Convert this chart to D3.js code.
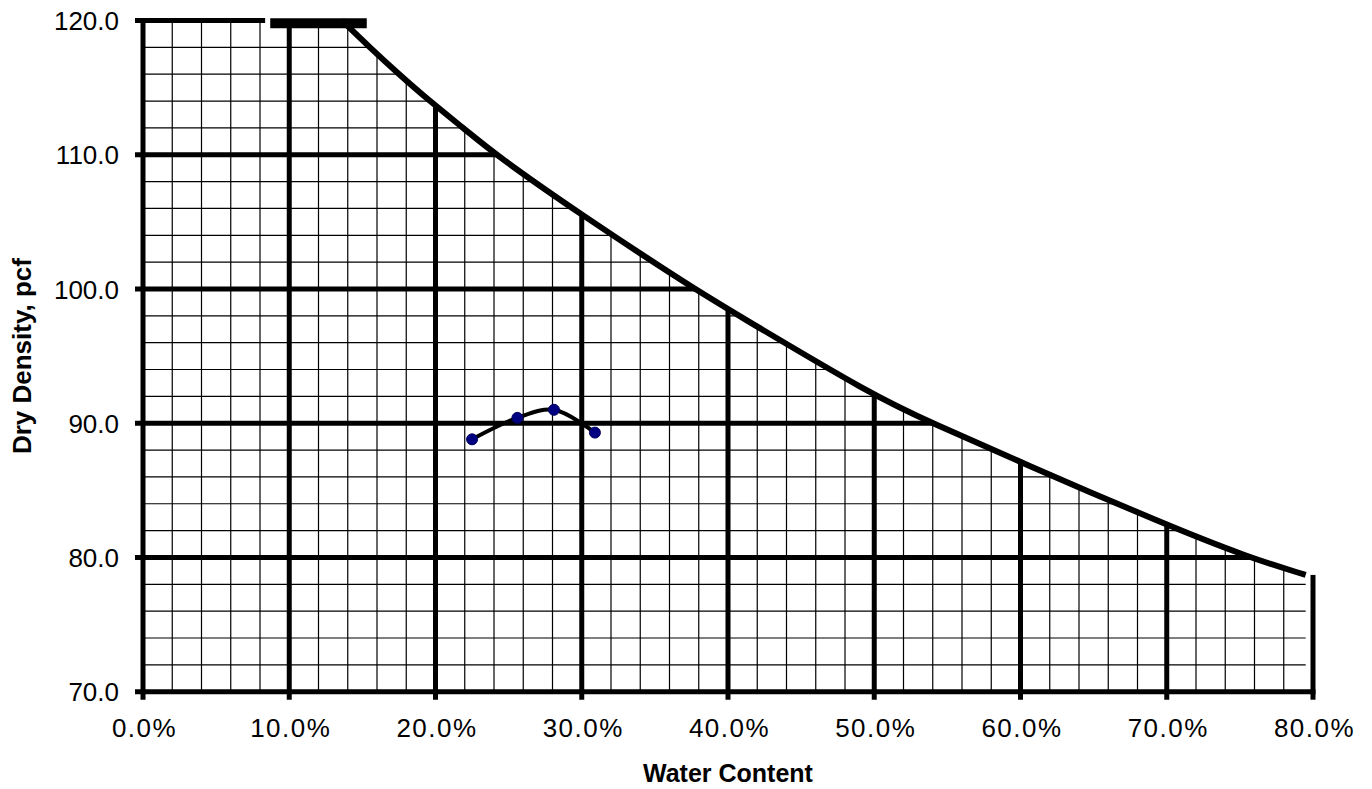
<!DOCTYPE html>
<html>
<head>
<meta charset="utf-8">
<script src="https://cdn.jsdelivr.net/npm/d3@7"></script>
<style>
    body { margin: 0; background: #fff; }
    svg text { font-family: "Liberation Sans", Arial, sans-serif; fill: #000; }
</style>
</head>
<body>
<svg id="chart"></svg>
<script>
// compaction chart: dry density vs water content

// saturation curve (water content %, dry density pcf)
var curveW = [13.6, 15.5, 17.5, 19.6, 21.9, 24.1, 30.0, 37.7, 40.0, 50.0, 54.0, 60.0, 70.0, 75.6, 79.5];
var curveV = [120.0, 118.0, 116.0, 114.0, 112.0, 110.0, 105.5, 100.0, 98.5, 92.0, 90.0, 87.1, 82.4, 80.0, 78.7];

// test points
var testW = [22.5, 25.6, 28.1, 30.9];
var testV = [88.8, 90.4, 91.0, 89.3];

// clamped part of the curve at the top edge
var capW = [8.7, 15.3];
var capV = 119.8;
// end of the 120 gridline on the left
var topLineEnd = 8.35;

var xMajor = [0, 10, 20, 30, 40, 50, 60, 70, 80];
var yMajor = [70, 80, 90, 100, 110, 120];
var xMinor = d3.range(2, 80, 2).filter(function(d) { return d % 10 !== 0; });
var yMinor = d3.range(72, 120, 2).filter(function(d) { return d % 10 !== 0; });

var W = 1372, H = 789;
var margin = { top: 20.5, right: 59, bottom: 97.3, left: 143 },
    width = W - margin.left - margin.right,
    height = H - margin.top - margin.bottom,
    tick = 8;

var svg = d3.select("#chart").attr("width", W).attr("height", H);

var x = d3.scaleLinear().domain([0, 80]).range([0, width]),
    y = d3.scaleLinear().domain([70, 120]).range([height, 0]);

var curve = curveW.map(function(w, i) { return { w: w, v: curveV[i] }; });
var tests = testW.map(function(w, i) { return { w: w, v: testV[i] }; });

var g = svg.append("g")
    .attr("transform", "translate(" + margin.left + "," + margin.top + ")");

// clip the grid to the area under the saturation curve
var area = d3.area()
    .x(function(d) { return x(d.w); })
    .y0(height + 12)
    .y1(function(d) { return y(d.v); })
    .curve(d3.curveBasis);

var clip = svg.append("defs").append("clipPath").attr("id", "under");
clip.append("path").datum(curve).attr("d", area);
clip.append("rect")
    .attr("x", -12)
    .attr("y", y(120))
    .attr("width", x(curveW[0]) + 12)
    .attr("height", height - y(120) + 12);

var grid = g.append("g").attr("clip-path", "url(#under)");

grid.selectAll(".vminor").data(xMinor).enter().append("line")
    .attr("class", "vminor")
    .attr("x1", x).attr("x2", x)
    .attr("y1", y(70)).attr("y2", y(120))
    .attr("stroke", "#000").attr("stroke-width", 1.2);

grid.selectAll(".hminor").data(yMinor).enter().append("line")
    .attr("class", "hminor")
    .attr("y1", y).attr("y2", y)
    .attr("x1", x(0)).attr("x2", x(80))
    .attr("stroke", "#000").attr("stroke-width", 1.2);

grid.selectAll(".vmajor").data(xMajor.slice(1, -1)).enter().append("line")
    .attr("class", "vmajor")
    .attr("x1", x).attr("x2", x)
    .attr("y1", y(70) + tick).attr("y2", y(120))
    .attr("stroke", "#000").attr("stroke-width", 5);

grid.selectAll(".hmajor").data(yMajor.slice(1, -1)).enter().append("line")
    .attr("class", "hmajor")
    .attr("y1", y).attr("y2", y)
    .attr("x1", -tick).attr("x2", x(80))
    .attr("stroke", "#000").attr("stroke-width", 5);

// frame lines
var frame = g.append("g").attr("stroke", "#000").attr("stroke-width", 5);
frame.append("line") // left
    .attr("x1", x(0)).attr("x2", x(0))
    .attr("y1", y(120) - 1.5).attr("y2", y(70) + tick);
frame.append("line") // bottom
    .attr("x1", -tick).attr("x2", x(80) + 2.5)
    .attr("y1", y(70)).attr("y2", y(70));
frame.append("line") // right, up to the end of the curve
    .attr("x1", x(80)).attr("x2", x(80))
    .attr("y1", y(70) + tick).attr("y2", y(curveV[curveV.length - 1]));
frame.append("line") // top gridline
    .attr("x1", -tick).attr("x2", x(topLineEnd))
    .attr("y1", y(120)).attr("y2", y(120));

// saturation curve
var line = d3.line()
    .x(function(d) { return x(d.w); })
    .y(function(d) { return y(d.v); })
    .curve(d3.curveBasis);

g.append("path").datum(curve)
    .attr("d", line)
    .attr("fill", "none")
    .attr("stroke", "#000")
    .attr("stroke-width", 6);

g.append("line")
    .attr("x1", x(capW[0])).attr("x2", x(capW[1]))
    .attr("y1", y(capV)).attr("y2", y(capV))
    .attr("stroke", "#000").attr("stroke-width", 10);

// test results
var tline = d3.line()
    .x(function(d) { return x(d.w); })
    .y(function(d) { return y(d.v); })
    .curve(d3.curveCatmullRom.alpha(0.5));

g.append("path").datum(tests)
    .attr("d", tline)
    .attr("fill", "none")
    .attr("stroke", "#000")
    .attr("stroke-width", 4);

g.selectAll(".pt").data(tests).enter().append("circle")
    .attr("class", "pt")
    .attr("cx", function(d) { return x(d.w); })
    .attr("cy", function(d) { return y(d.v); })
    .attr("r", 5.5)
    .attr("fill", "#000080")
    .attr("stroke", "#000060")
    .attr("stroke-width", 1);

// tick labels
var xAxis = d3.axisBottom(x).tickValues(xMajor).tickSize(0).tickPadding(0)
    .tickFormat(function(d) { return d3.format(".1f")(d) + "%"; });
var gx = g.append("g")
    .attr("transform", "translate(0," + height + ")")
    .call(xAxis);
gx.select(".domain").remove();
gx.selectAll("text")
    .attr("y", 45).attr("dy", null)
    .attr("dx", 1)
    .style("font-size", "26px")
    .style("letter-spacing", "1.5px")
    .style("font-family", "'Liberation Sans', Arial, sans-serif");

var yAxis = d3.axisLeft(y).tickValues(yMajor).tickSize(0).tickPadding(0)
    .tickFormat(d3.format(".1f"));
var gy = g.append("g").call(yAxis);
gy.select(".domain").remove();
gy.selectAll("text")
    .attr("x", -24).attr("dy", "0.35em")
    .style("font-size", "26px")
    .style("font-family", "'Liberation Sans', Arial, sans-serif");

// axis titles
svg.append("text")
    .attr("x", margin.left + width / 2)
    .attr("y", 782)
    .attr("text-anchor", "middle")
    .style("font-size", "25px")
    .style("font-weight", "bold")
    .text("Water Content");

svg.append("text")
    .attr("transform", "translate(31," + (margin.top + height / 2) + ") rotate(-90)")
    .attr("text-anchor", "middle")
    .style("font-size", "26px")
    .style("font-weight", "bold")
    .text("Dry Density, pcf");
</script>
</body>
</html>
